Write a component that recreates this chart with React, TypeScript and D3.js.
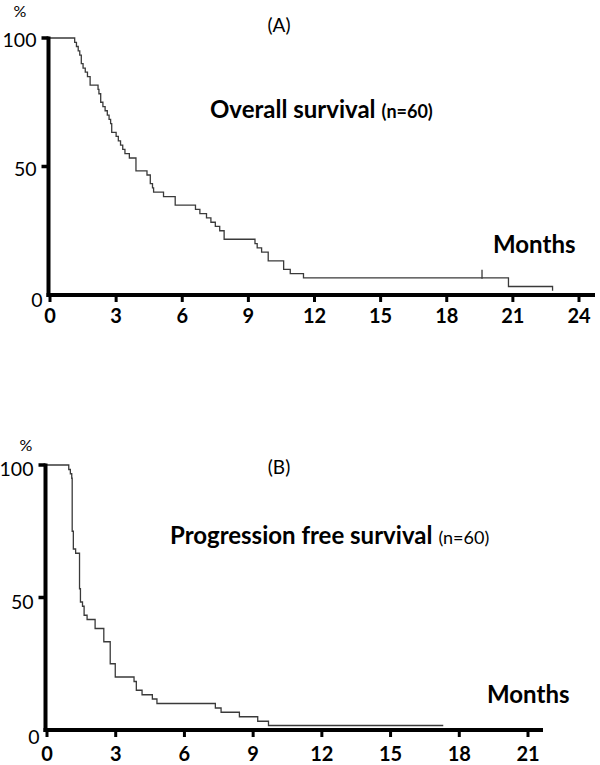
import React from "react";
import * as d3 from "d3";

// Overall survival: [month, % surviving after the step]
const osSteps: [number, number][] = [
  [0, 100], [1.12, 98.3], [1.2, 96.7], [1.28, 95], [1.35, 93.3], [1.42, 90], [1.5, 88.3],
  [1.6, 86.7], [1.7, 85], [1.82, 81.7], [2.18, 80], [2.22, 78.3], [2.3, 75], [2.4, 73.3],
  [2.5, 71.7], [2.6, 70], [2.68, 68.3], [2.75, 66.7], [2.8, 63.3], [3.0, 61.7], [3.1, 60],
  [3.2, 58.3], [3.3, 56.7], [3.4, 55], [3.6, 53.3], [3.9, 48.3], [4.4, 46.7], [4.55, 43.3],
  [4.65, 41.7], [4.7, 40], [5.15, 38.3], [5.68, 35], [6.6, 33.3], [6.8, 31.7], [7.1, 30],
  [7.3, 28.3], [7.5, 26.7], [7.7, 25], [7.9, 21.7], [9.3, 20], [9.4, 18.3], [9.6, 16.7],
  [9.9, 13.3], [10.6, 10], [10.9, 8.3], [11.5, 6.7], [20.8, 3.3], [22.8, 1.7],
];
const osCensored: number[] = [19.6];

// Progression free survival
const pfsSteps: [number, number][] = [
  [0, 100], [0.95, 98.3], [1.02, 96.7], [1.08, 95], [1.1, 75], [1.15, 68.3], [1.25, 66.7],
  [1.42, 53.3], [1.46, 48.3], [1.55, 46.7], [1.62, 43.3], [1.75, 41.7], [2.1, 38.3],
  [2.48, 33.3], [2.76, 25], [2.98, 20], [3.8, 18.3], [3.9, 15], [4.15, 13.3], [4.6, 11.7],
  [4.8, 10], [7.35, 8.3], [7.6, 6.7], [8.4, 5], [9.2, 3.3], [9.67, 1.7],
];
const pfsEnd = 17.3;
const pfsCensored: number[] = [];

const xTicksA = [0, 3, 6, 9, 12, 15, 18, 21, 24];
const xTicksB = [0, 3, 6, 9, 12, 15, 18, 21];
const yTicks = [0, 50, 100];

const FONT = "Lato, 'Open Sans', sans-serif";

type PanelProps = {
  steps: [number, number][];
  end: number | null;
  censored: number[];
  xTicks: number[];
  xMax: number;
  x0: number;
  x1: number;
  axisEnd: number;
  yTop: number;
  yBottom: number;
  letter: string;
  letterPos: [number, number];
  pctPos: [number, number];
  title: string;
  titleX: number;
  titleY: number;
  nBold: boolean;
  monthsX: number;
  monthsY: number;
  yLabelDy: number;
  zeroDy: number;
  xLabelDy: number;
};

function Panel(p: PanelProps) {
  const x = d3.scaleLinear().domain([0, p.xMax]).range([p.x0, p.x1]);
  const y = d3.scaleLinear().domain([0, 100]).range([p.yBottom, p.yTop]);
  const pts: [number, number][] = [...p.steps];
  if (p.end !== null) pts.push([p.end, p.steps[p.steps.length - 1][1]]);
  const line = d3
    .line<[number, number]>()
    .x((d) => x(d[0]))
    .y((d) => y(d[1]))
    .curve(d3.curveStepAfter);
  const path = line(pts) || "";
  const survAt = (t: number) => {
    let s = 100;
    for (const [tt, ss] of p.steps) if (tt <= t) s = ss;
    return s;
  };
  const axX = p.x0 - 1.5;
  return (
    <g>
      <text x={p.pctPos[0]} y={p.pctPos[1]} fontSize={16} fontFamily={FONT} textAnchor="middle">%</text>
      <text x={p.letterPos[0]} y={p.letterPos[1]} fontSize={19} fontFamily={FONT} textAnchor="middle">{p.letter}</text>
      <text x={p.titleX} y={p.titleY} fontFamily={FONT} fontWeight="bold" fontSize={24}>
        {p.title}
        <tspan fontSize={18} fontWeight={p.nBold ? "bold" : "normal"} dx={6}>(n=60)</tspan>
      </text>
      <text x={p.monthsX} y={p.monthsY} fontFamily={FONT} fontWeight="bold" fontSize={24}>Months</text>
      <path d={path} fill="none" stroke="#3a3a3a" strokeWidth={1.3} />
      {p.censored.map((c, i) => (
        <line key={i} x1={x(c)} x2={x(c)} y1={y(survAt(c)) - 8} y2={y(survAt(c)) + 1} stroke="#3a3a3a" strokeWidth={1.3} />
      ))}
      {/* y axis */}
      <line x1={axX} x2={axX} y1={p.yTop - 1.5} y2={p.yBottom + 2} stroke="#000" strokeWidth={4} />
      {yTicks.filter((t) => t > 0).map((t) => (
        <line key={t} x1={axX - 7} x2={axX} y1={y(t)} y2={y(t)} stroke="#000" strokeWidth={3.5} />
      ))}
      {yTicks.map((t) => (
        <text key={t} x={t === 0 ? axX - 6 : axX - 12} y={y(t) + (t === 0 ? p.zeroDy : p.yLabelDy)} fontSize={19.5} fontFamily={FONT} textAnchor="end">{t}</text>
      ))}
      {/* x axis */}
      <line x1={axX - 2} x2={p.axisEnd} y1={p.yBottom} y2={p.yBottom} stroke="#000" strokeWidth={4} />
      {p.xTicks.map((t) => (
        <g key={t}>
          <line x1={x(t)} x2={x(t)} y1={p.yBottom} y2={p.yBottom + 7} stroke="#000" strokeWidth={3} />
          <text x={x(t)} y={p.yBottom + p.xLabelDy} fontSize={20} fontFamily={FONT} fontWeight="bold" textAnchor="middle">{t}</text>
        </g>
      ))}
    </g>
  );
}

export default function App() {
  return (
    <svg width={600} height={765} style={{ display: "block", position: "absolute", left: 0, top: 0, background: "#fff" }}>
      <rect width={600} height={765} fill="#fff" />
      <Panel
        steps={osSteps}
        end={null}
        censored={osCensored}
        xTicks={xTicksA}
        xMax={24}
        x0={50}
        x1={579}
        axisEnd={595}
        yTop={38}
        yBottom={295}
        letter="(A)"
        letterPos={[279, 32]}
        pctPos={[20, 17]}
        title="Overall survival"
        titleX={210}
        titleY={118}
        nBold={true}
        monthsX={493}
        monthsY={253}
        yLabelDy={9}
        zeroDy={12}
        xLabelDy={28}
      />
      <Panel
        steps={pfsSteps}
        end={pfsEnd}
        censored={pfsCensored}
        xTicks={xTicksB}
        xMax={21}
        x0={47}
        x1={528}
        axisEnd={543}
        yTop={465}
        yBottom={730}
        letter="(B)"
        letterPos={[279, 474]}
        pctPos={[26, 451]}
        title="Progression free survival"
        titleX={170}
        titleY={544}
        nBold={false}
        monthsX={487}
        monthsY={703}
        yLabelDy={11}
        zeroDy={14}
        xLabelDy={31}
      />
    </svg>
  );
}
